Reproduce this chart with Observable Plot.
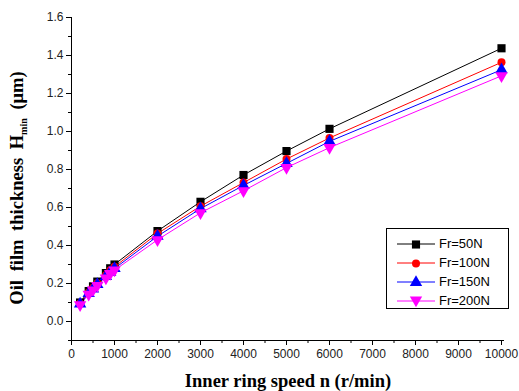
<!DOCTYPE html>
<html><head><meta charset="utf-8">
<script src="https://cdn.jsdelivr.net/npm/d3@7"></script>
<script src="https://cdn.jsdelivr.net/npm/@observablehq/plot@0.6"></script>
<style>
body{margin:0;background:#fff;}
#wrap{position:relative;width:519px;height:391px;}
#legend{position:absolute;left:386px;top:228px;width:121px;height:79px;border:1px solid #000;background:#fff;font-family:"Liberation Sans",Arial,sans-serif;font-size:13px;}
.row{position:absolute;left:0;height:19px;display:flex;align-items:center;}
.row svg{display:block}
.row span{margin-left:4px;}
</style></head>
<body><div id="wrap"><div id="chart"></div><div id="legend"></div></div>
<script>
const speeds = [200,400,500,600,800,900,1000,2000,3000,4000,5000,6000,10000];
const h50  = [0.100,0.160,0.185,0.210,0.255,0.280,0.300,0.476,0.630,0.771,0.897,1.014,1.438];
const h100 = [0.095,0.153,0.177,0.201,0.244,0.268,0.288,0.463,0.607,0.731,0.855,0.966,1.364];
const h150 = [0.092,0.148,0.172,0.195,0.237,0.260,0.279,0.449,0.594,0.716,0.832,0.948,1.325];
const h200 = [0.088,0.143,0.166,0.189,0.229,0.252,0.270,0.430,0.572,0.688,0.810,0.915,1.293];
const seriesNames = ["Fr=50N","Fr=100N","Fr=150N","Fr=200N"];
const seriesColors = ["#000000","#ff0000","#0000ff","#ff00ff"];
const seriesSymbols = ["square","circle","triangle","triangle"];
const seriesRotate = [0,0,0,180];
const xTicks = [0,1000,2000,3000,4000,5000,6000,7000,8000,9000,10000];
const yTicks = [0.0,0.2,0.4,0.6,0.8,1.0,1.2,1.4,1.6];

const allSeries = [h50,h100,h150,h200];
const rows = [];
allSeries.forEach((vals,si)=>vals.forEach((v,i)=>rows.push({s:si,x:speeds[i],y:v})));

const xMinor = d3.range(0,10001,500);
const yMinor = d3.range(-0.1,1.601,0.1).map(v=>+v.toFixed(2));

const marks = [];
// axis lines
marks.push(Plot.ruleX([0],{y1:-0.1,y2:1.6,stroke:"#000",strokeWidth:1}));
marks.push(Plot.ruleY([-0.1],{x1:0,x2:10070,stroke:"#000",strokeWidth:1}));
// ticks
marks.push(Plot.axisY(yMinor,{tickSize:3,tickFormat:()=>"",label:null,stroke:"#000"}));
marks.push(Plot.axisY(yTicks,{tickSize:5,tickPadding:3,tickFormat:d3.format(".1f"),label:null,fontSize:12,fill:"#222",stroke:"#000"}));
marks.push(Plot.axisX(xMinor,{tickSize:3,tickFormat:()=>"",label:null,stroke:"#000"}));
marks.push(Plot.axisX(xTicks,{tickSize:5,tickPadding:4,tickFormat:d=>String(d),label:null,fontSize:12,fill:"#222",stroke:"#000"}));
seriesNames.forEach((n,si)=>{
  const d = rows.filter(r=>r.s===si);
  marks.push(Plot.line(d,{x:"x",y:"y",stroke:seriesColors[si],strokeWidth:1}));
});
seriesNames.forEach((n,si)=>{
  const d = rows.filter(r=>r.s===si);
  marks.push(Plot.dot(d,{x:"x",y:"y",symbol:()=>seriesSymbols[si],fill:seriesColors[si],stroke:"none",r:si===1?4:4.6,rotate:seriesRotate[si]}));
});

const plot = Plot.plot({
  width:519,height:391,
  marginLeft:71,marginRight:18,marginTop:17,marginBottom:51,
  style:{fontFamily:"'Liberation Sans',Arial,sans-serif",background:"#fff",overflow:"visible"},
  x:{type:"linear",domain:[0,10000],axis:null},
  y:{type:"linear",domain:[-0.1,1.6],axis:null},
  symbol:{type:"identity"},
  marks
});
document.getElementById("chart").appendChild(plot);
const svg = d3.select(plot);
// axis titles
svg.append("text").attr("x",288).attr("y",387).attr("text-anchor","middle")
  .attr("font-family","'Liberation Serif','Times New Roman',serif").attr("font-weight","bold").attr("font-size",18.5)
  .text("Inner ring speed n (r/min)");
const yt = svg.append("text").attr("transform","translate(23,188) rotate(-90)").attr("text-anchor","middle")
  .attr("font-family","'Liberation Serif','Times New Roman',serif").attr("font-weight","bold").attr("font-size",18.5)
  .attr("word-spacing",4);
yt.append("tspan").text("Oil film thickness H");
yt.append("tspan").attr("font-size",10).attr("dy",4).text("min");
yt.append("tspan").attr("dy",-4).text(" (μm)");

// legend
const leg = d3.select("#legend");
seriesNames.forEach((n,si)=>{
  const row = leg.append("div").attr("class","row").style("top",(5+si*19)+"px").style("left","10px");
  const s = row.append("svg").attr("width",38).attr("height",14);
  s.append("line").attr("x1",0).attr("x2",38).attr("y1",7).attr("y2",7).attr("stroke",seriesColors[si]);
  s.append("path").attr("d",d3.symbol(si===0?d3.symbolSquare:si===1?d3.symbolCircle:d3.symbolTriangle, Math.PI*(si===1?16:21))())
   .attr("transform",`translate(19,${si===3?6:7.5}) rotate(${seriesRotate[si]})`).attr("fill",seriesColors[si]);
  row.append("span").text(n);
});
</script></body></html>
